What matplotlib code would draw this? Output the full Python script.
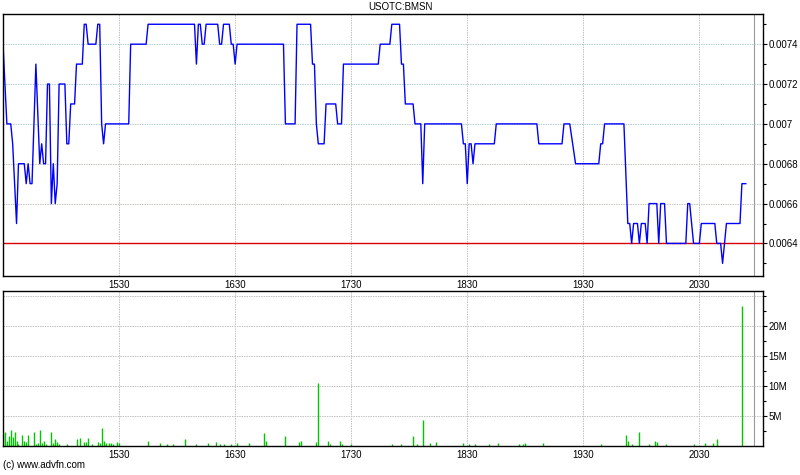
import matplotlib
matplotlib.use('Agg')
import matplotlib.pyplot as plt

plt.rcParams['font.family'] = ['Liberation Sans', 'DejaVu Sans']

# minutes after 14:30 and traded price
price_min = [0, 2, 4, 5, 7, 8, 11, 12, 13, 14, 15, 17, 19, 20, 21, 22, 23, 24,
             25, 26, 27, 28, 29, 32, 33, 34, 35, 37, 38, 41, 42, 43, 44, 48,
             49, 50, 51, 52, 53, 65, 66, 74, 75, 99, 100, 101, 102, 103, 104,
             105, 111, 112, 113, 114, 117, 118, 119, 120, 121, 145, 146, 151,
             152, 159, 160, 161, 162, 163, 166, 167, 172, 173, 175, 176, 194,
             195, 200, 201, 205, 206, 207, 208, 212, 213, 216, 217, 218, 237,
             238, 239, 240, 241, 242, 243, 244, 254, 255, 276, 277, 289, 290,
             293, 296, 308, 309, 310, 311, 321, 323, 324, 325, 326, 328, 329,
             330, 332, 333, 334, 338, 339, 340, 342, 343, 353, 354, 355, 357,
             360, 361, 368, 369, 371, 372, 373, 374, 381, 382, 384]
price_val = [0.0074, 0.0070, 0.0070, 0.0069, 0.0065, 0.0068, 0.0068, 0.0067,
             0.0068, 0.0067, 0.0067, 0.0073, 0.0068, 0.0069, 0.0068, 0.0068,
             0.0072, 0.0072, 0.0066, 0.0068, 0.0066, 0.0067, 0.0072, 0.0072,
             0.0069, 0.0069, 0.0071, 0.0071, 0.0073, 0.0073, 0.0075, 0.0075,
             0.0074, 0.0074, 0.0075, 0.0075, 0.0070, 0.0069, 0.0070, 0.0070,
             0.0074, 0.0074, 0.0075, 0.0075, 0.0073, 0.0075, 0.0075, 0.0074,
             0.0074, 0.0075, 0.0075, 0.0074, 0.0074, 0.0075, 0.0075, 0.0074,
             0.0074, 0.0073, 0.0074, 0.0074, 0.0070, 0.0070, 0.0075, 0.0075,
             0.0073, 0.0073, 0.0070, 0.0069, 0.0069, 0.0071, 0.0071, 0.0070,
             0.0070, 0.0073, 0.0073, 0.0074, 0.0074, 0.0075, 0.0075, 0.0073,
             0.0073, 0.0071, 0.0071, 0.0070, 0.0070, 0.0067, 0.0070, 0.0070,
             0.0069, 0.0069, 0.0067, 0.0069, 0.0069, 0.0068, 0.0069, 0.0069,
             0.0070, 0.0070, 0.0069, 0.0069, 0.0070, 0.0070, 0.0068, 0.0068,
             0.0069, 0.0069, 0.0070, 0.0070, 0.0065, 0.0065, 0.0064, 0.0065,
             0.0065, 0.0064, 0.0065, 0.0065, 0.0064, 0.0066, 0.0066, 0.0064,
             0.0066, 0.0066, 0.0064, 0.0064, 0.0066, 0.0066, 0.0064, 0.0064,
             0.0065, 0.0065, 0.0064, 0.0064, 0.0063, 0.0064, 0.0065, 0.0065,
             0.0067, 0.0067]

# volume per minute (millions of shares)
vol_min = [0, 1, 2, 3, 4, 5, 6, 7, 8, 10, 11, 12, 13, 16, 17, 18, 19, 20, 21,
           22, 25, 26, 27, 28, 29, 33, 38, 40, 42, 43, 44, 46, 49, 50, 51, 52,
           53, 55, 56, 57, 59, 60, 75, 81, 85, 88, 94, 100, 106, 110, 112,
           114, 118, 121, 127, 135, 136, 146, 153, 154, 162, 163, 168, 169,
           174, 175, 180, 201, 206, 212, 214, 217, 221, 224, 238, 241, 244,
           251, 256, 267, 269, 270, 279, 309, 322, 323, 325, 329, 334, 337,
           338, 343, 357, 363, 367, 369, 382]
vol_val = [2.1, 2.3, 0.8, 1.6, 2.6, 1.5, 2.3, 0.8, 0.4, 1.8, 0.8, 0.65, 1.8,
           2.25, 0.4, 0.55, 2.6, 0.55, 0.9, 0.3, 2.4, 0.5, 1.15, 0.65, 0.3,
           0.3, 1.15, 1.3, 0.65, 0.65, 1.3, 0.3, 0.65, 0.55, 3.0, 0.8, 0.55,
           0.5, 0.5, 0.3, 0.65, 0.5, 0.8, 0.5, 0.3, 0.3, 1.15, 0.3, 0.5, 0.65,
           0.3, 0.3, 0.3, 0.5, 0.5, 2.1, 0.9, 1.65, 0.65, 0.8, 0.65, 10.5,
           0.8, 0.3, 0.8, 0.3, 0.3, 0.3, 0.3, 1.65, 0.3, 4.3, 0.5, 0.65, 0.5,
           0.3, 0.3, 0.3, 0.5, 0.3, 0.3, 0.55, 0.5, 0.3, 1.9, 0.9, 0.3, 2.25,
           0.3, 0.8, 0.65, 0.3, 0.3, 0.5, 0.5, 1.15, 23.35]

hour_ticks = [60, 120, 180, 240, 300, 360]
hour_labels = ['1530', '1630', '1730', '1830', '1930', '2030']
price_ticks = [0.0064, 0.0066, 0.0068, 0.007, 0.0072, 0.0074]
price_labels = ['0.0064', '0.0066', '0.0068', '0.007', '0.0072', '0.0074']
vol_ticks = [5, 10, 15, 20]
vol_labels = ['5M', '10M', '15M', '20M']
prev_close = 0.0064
now_min = 388.3

W, H = 800, 475
fig = plt.figure(figsize=(8, 4.75), dpi=100)
ax1 = fig.add_axes([3 / W, 1 - 276 / H, 760 / W, 262 / H])
ax2 = fig.add_axes([3 / W, 1 - 446 / H, 760 / W, 155 / H])

grid_ls = (0, (1.5, 1))
for ax in (ax1, ax2):
    ax.set_xlim(0, 392.9)
    for t in hour_ticks:
        ax.axvline(t, color='#c2c2c2', lw=0.7, ls=grid_ls, zorder=0)
    ax.axvline(now_min, color='#9a9a9a', lw=0.8, zorder=0)
    ax.set_xticks(hour_ticks)
    ax.set_xticklabels(hour_labels)
    ax.yaxis.tick_right()
    ax.tick_params(axis='y', which='both', direction='out', right=True,
                   left=False, labelsize=7, pad=1, width=0.8)
    ax.tick_params(axis='y', which='major', length=3)
    ax.tick_params(axis='y', which='minor', length=2)
    ax.tick_params(axis='x', length=0, labelsize=7, pad=3)
    for s in ax.spines.values():
        s.set_color('black')
        s.set_linewidth(1)

# price panel
ax1.set_ylim(0.0062365, 0.0075515)
for p in price_ticks:
    col = '#b0cece' if p >= 0.007 else '#c4c4bc'
    ax1.axhline(p, color=col, lw=0.7, ls=grid_ls, zorder=0)
ax1.axhline(prev_close, color='#d80000', lw=1, zorder=1)
ax1.plot(price_min, price_val, color='#0000ff', lw=1, zorder=2)
ax1.set_yticks(price_ticks)
ax1.set_yticklabels(price_labels)
ax1.set_yticks([0.0063 + 0.0001 * i for i in range(13)], minor=True)

# volume panel
ax2.set_ylim(0, 25.77)
for v in vol_ticks + [25]:
    ax2.axhline(v, color='#c2c2c2', lw=0.7, ls=grid_ls, zorder=0)
ax2.vlines(vol_min, 0, vol_val, colors='#00c800', lw=1.0, zorder=2)
ax2.set_yticks(vol_ticks)
ax2.set_yticklabels(vol_labels)
ax2.set_yticks([2.5 * i for i in range(1, 11)], minor=True)

fig.text(0.5, 1 - 7 / H, 'USOTC:BMSN', ha='center', va='center', fontsize=7)
fig.text(3 / W, 1 - 465 / H, '(c) www.advfn.com', ha='left', va='center',
         fontsize=7)

fig.savefig('out.png', dpi=100)
